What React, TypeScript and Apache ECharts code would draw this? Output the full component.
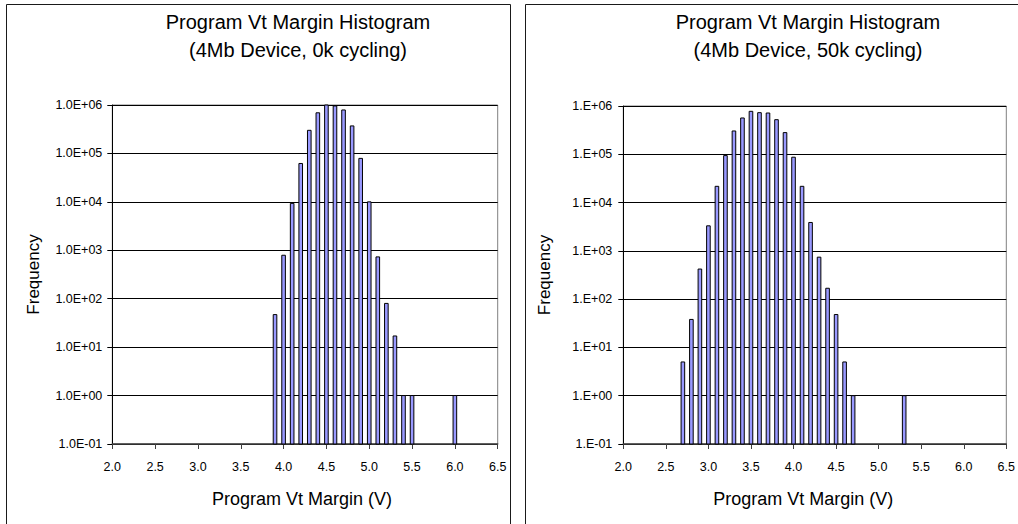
import React, { useEffect, useRef } from "react";
import * as echarts from "echarts";

// ---- data ----
const titleLine1 = "Program Vt Margin Histogram";
const leftSubtitle = "(4Mb Device, 0k cycling)";
const rightSubtitle = "(4Mb Device, 50k cycling)";
const xAxisName = "Program Vt Margin (V)";
const yAxisName = "Frequency";

const xTickLabels = ["2.0", "2.5", "3.0", "3.5", "4.0", "4.5", "5.0", "5.5", "6.0", "6.5"];
const xMin = 2;
const xMax = 6.5;
const xStep = 0.5;

const yMin = 0.1;
const yMax = 1000000;
const leftYTickLabels = ["1.0E-01", "1.0E+00", "1.0E+01", "1.0E+02", "1.0E+03", "1.0E+04", "1.0E+05", "1.0E+06"];
const rightYTickLabels = ["1.E-01", "1.E+00", "1.E+01", "1.E+02", "1.E+03", "1.E+04", "1.E+05", "1.E+06"];

const leftVt = [3.9, 4.0, 4.1, 4.2, 4.3, 4.4, 4.5, 4.6, 4.7, 4.8, 4.9, 5.0, 5.1, 5.2, 5.3, 5.4, 5.5, 6.0];
const leftFreq = [47, 790, 9300, 62000, 300000, 690000, 1000000, 955000, 790000, 370000, 79000, 10000, 730, 80, 17, 1, 1, 1];

const rightVt = [2.7, 2.8, 2.9, 3.0, 3.1, 3.2, 3.3, 3.4, 3.5, 3.6, 3.7, 3.8, 3.9, 4.0, 4.1, 4.2, 4.3, 4.4, 4.5, 4.6, 4.7, 5.3];
const rightFreq = [5, 38, 420, 3300, 21700, 94000, 304000, 565000, 776000, 728000, 716000, 521000, 281000, 87000, 21700, 3870, 740, 168, 48, 5, 1, 1];

// ---- styling ----
const FONT = "'Liberation Sans', Arial, Helvetica, sans-serif";
const BAR_FILL = "#9999FF";
const BAR_W = 3.6;

function xLabel(v: number) {
  const i = Math.round((v - xMin) / xStep);
  return xTickLabels[i] ?? "";
}
function yLabelFn(labels: string[]) {
  return (v: number) => {
    const e = Math.round(Math.log10(v));
    return labels[e + 1] ?? "";
  };
}

function renderBar(params: any, api: any) {
  const x = api.value(0);
  const y = api.value(1);
  const top = api.coord([x, y]);
  const base = api.coord([x, yMin]);
  return {
    type: "rect",
    shape: { x: top[0] - BAR_W / 2, y: top[1], width: BAR_W, height: base[1] - top[1] },
    style: { fill: BAR_FILL, stroke: "#000", lineWidth: 1 },
  };
}

function makeXAxis(gridIndex: number, padRight: number) {
  return {
    gridIndex,
    type: "value",
    min: xMin,
    max: xMax,
    interval: xStep,
    axisLine: { show: true, lineStyle: { color: "#404040", width: 1.5 } },
    axisTick: { show: true, inside: false, length: 5, lineStyle: { color: "#404040", width: 1 } },
    splitLine: { show: false },
    axisLabel: { formatter: xLabel, fontSize: 12.5, fontFamily: FONT, color: "#000", margin: 16 },
    name: xAxisName,
    nameLocation: "middle",
    nameGap: 46,
    nameTextStyle: { fontSize: 18, fontFamily: FONT, color: "#000", padding: [0, padRight, 0, 0] },
  };
}

function makeYAxis(gridIndex: number, labels: string[], margin: number) {
  return {
    gridIndex,
    type: "log",
    logBase: 10,
    min: yMin,
    max: yMax,
    splitNumber: 7,
    axisLine: { show: true, lineStyle: { color: "#000", width: 1 } },
    axisTick: { show: true, inside: false, length: 5, lineStyle: { color: "#000", width: 1 } },
    splitLine: { show: true, lineStyle: { color: "#000", width: 1 } },
    axisLabel: { formatter: yLabelFn(labels), fontSize: 12.5, fontFamily: FONT, color: "#000", margin },
    name: yAxisName,
    nameLocation: "middle",
    nameGap: 70,
    nameRotate: 90,
    nameTextStyle: { fontSize: 17, fontFamily: FONT, color: "#000" },
  };
}

function titleText(x: number, y: number, text: string) {
  return {
    type: "text",
    x,
    y,
    silent: true,
    style: { text, align: "center", verticalAlign: "middle", fontSize: 20, fontFamily: FONT, fill: "#000" },
  };
}

export default function App() {
  const ref = useRef<HTMLDivElement>(null);
  useEffect(() => {
    if (!ref.current) return;
    const chart = echarts.init(ref.current, null, { renderer: "svg" });
    const option: any = {
      animation: false,
      backgroundColor: "#fff",
      grid: [
        { left: 112.3, top: 105, width: 385.4, height: 339, show: true, borderColor: "#808080", borderWidth: 1, backgroundColor: "#fff" },
        { left: 623.3, top: 106, width: 384.4, height: 338, show: true, borderColor: "#808080", borderWidth: 1, backgroundColor: "#fff" },
      ],
      xAxis: [makeXAxis(0, 6), makeXAxis(1, 23)],
      yAxis: [makeYAxis(0, leftYTickLabels, 10), makeYAxis(1, rightYTickLabels, 11)],
      series: [
        {
          type: "custom",
          xAxisIndex: 0,
          yAxisIndex: 0,
          renderItem: renderBar,
          data: leftVt.map((v, i) => [v, leftFreq[i]]),
        },
        {
          type: "custom",
          xAxisIndex: 1,
          yAxisIndex: 1,
          renderItem: renderBar,
          data: rightVt.map((v, i) => [v, rightFreq[i]]),
        },
      ],
      graphic: [
        { type: "rect", silent: true, shape: { x: 6.5, y: 4.5, width: 504, height: 600 }, style: { fill: "none", stroke: "#1a1a1a", lineWidth: 1 } },
        { type: "rect", silent: true, shape: { x: 525.5, y: 4.5, width: 600, height: 600 }, style: { fill: "none", stroke: "#1a1a1a", lineWidth: 1 } },
        titleText(298, 22, titleLine1),
        titleText(298, 50, leftSubtitle),
        titleText(808, 22, titleLine1),
        titleText(808, 50, rightSubtitle),
      ],
    };
    chart.setOption(option);
    return () => chart.dispose();
  }, []);
  return (
    <div
      ref={ref}
      style={{ position: "fixed", left: 0, top: 0, width: 1018, height: 524, background: "#fff" }}
    />
  );
}
